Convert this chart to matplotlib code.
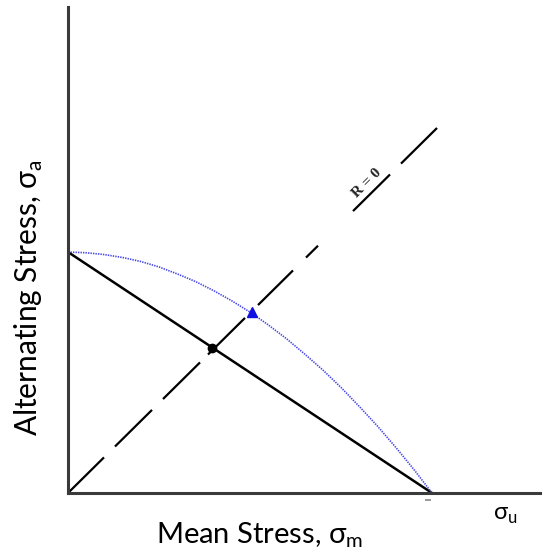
import numpy as np
import matplotlib
matplotlib.use("Agg")
import matplotlib.pyplot as plt

plt.rcParams['font.family'] = ['Lato', 'DejaVu Sans']
plt.rcParams['lines.scale_dashes'] = False

# fatigue limit and ultimate strength (arbitrary stress units)
Se = 6.62
Su = 10.0

# Goodman line
goodman_m = [0.0, Su]
goodman_a = [Se, 0.0]

# Gerber curve, points read along the parabola
gerber_m = [0.0, 0.5, 1.0, 1.5, 2.0, 2.5, 3.0, 3.5, 4.0, 4.5, 5.0,
            5.5, 6.0, 6.5, 7.0, 7.5, 8.0, 8.5, 9.0, 9.5, 10.0]
gerber_a = [6.62, 6.60, 6.55, 6.47, 6.36, 6.21, 6.02, 5.81, 5.56, 5.28, 4.97,
            4.62, 4.24, 3.82, 3.38, 2.90, 2.38, 1.84, 1.26, 0.65, 0.0]

# load line R = 0
r0_m = [0.0, 10.14]
r0_a = [0.0, 10.03]

# operating points on each criterion
goodman_pt = (3.95, 3.98)
gerber_pt = (5.05, 4.97)

W, H = 548, 552
fig = plt.figure(figsize=(W / 100, H / 100), dpi=100)
# axes origin sits at pixel (68, 493)
ax = fig.add_axes([68 / W, (H - 493) / H, (540 - 68) / W, (493 - 7) / H])
scale = 36.4  # pixels per stress unit
ax.set_xlim(0, (540 - 68) / scale)
ax.set_ylim(0, (493 - 7) / scale)

for s in ['top', 'right']:
    ax.spines[s].set_visible(False)
for s in ['left', 'bottom']:
    ax.spines[s].set_color('#3a3a3a')
    ax.spines[s].set_linewidth(2.2)
ax.set_xticks([])
ax.set_yticks([])

# dash lengths along the R = 0 line, in points
k = 1.4066 * 0.72
pattern = [36, 11, 37, 11, 37, 8, 37, 13, 35, 13, 12, 35, 37, 11, 36, 100]
ax.plot(r0_m, r0_a, color='black', lw=1.6,
        linestyle=(0, tuple(p * k for p in pattern)), solid_capstyle='butt')

ax.plot(goodman_m, goodman_a, color='black', lw=1.8)
ax.plot(gerber_m, gerber_a, color='#4646e6', lw=1.2, linestyle=(0, (1.0, 0.8)))

ax.plot(*goodman_pt, marker='o', color='black', ms=6, zorder=5)
ax.plot(*gerber_pt, marker='^', color='#1010e0', ms=7, zorder=5)

# small stray tick under the axis near the ultimate strength
ax.plot(9.9, -0.2, marker='_', color='#888888', ms=4, mew=1.2, clip_on=False)

ax.text(8.21, 8.52, 'R = 0', rotation=45, ha='center', va='center',
        fontsize=11, fontweight='bold', family='Liberation Serif', color='#222222')

fig.text(260 / W, 1 - 543 / H, 'Mean Stress, σ$_\\mathregular{m}$',
         ha='center', va='baseline', fontsize=21)
fig.text(29 / W, 1 - 298 / H, 'Alternating Stress, σ$_\\mathregular{a}$',
         ha='center', va='center', rotation=90, fontsize=21.5)
fig.text(505 / W, 1 - 515 / H, 'σ$_\\mathregular{u}$',
         ha='center', va='center', fontsize=17)

fig.savefig('out.png', dpi=100)
